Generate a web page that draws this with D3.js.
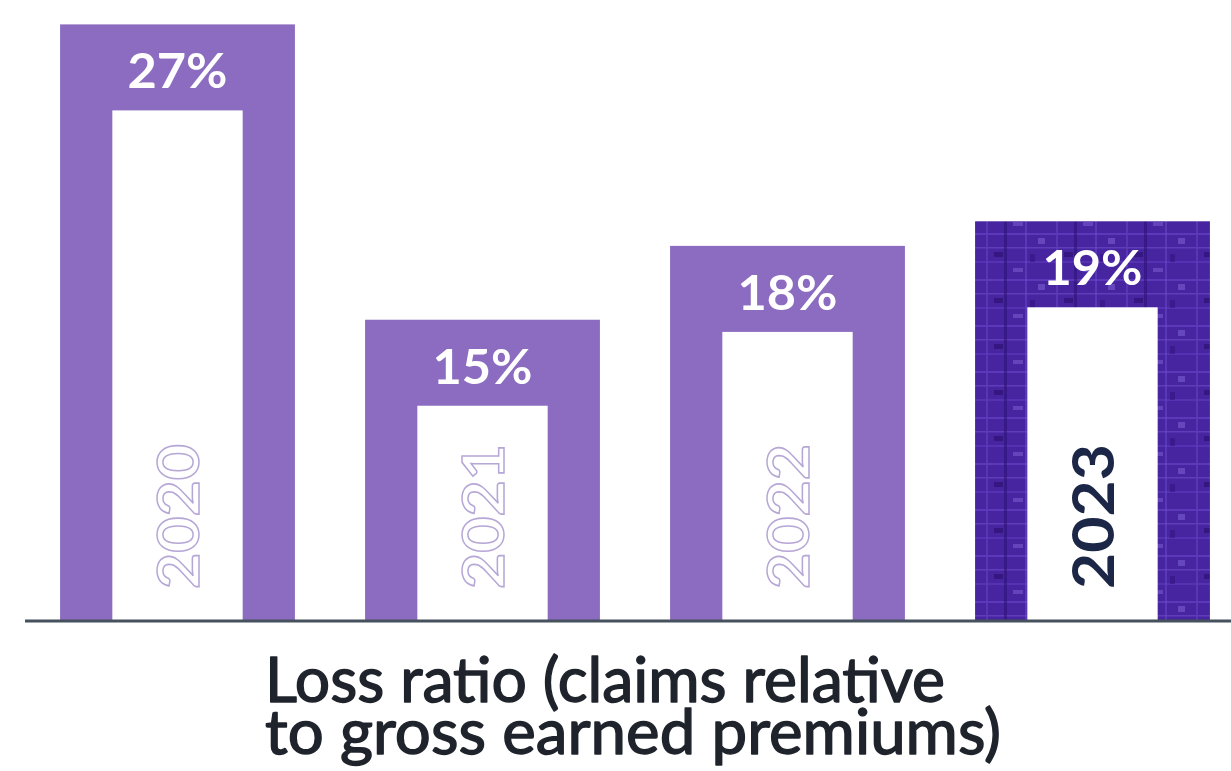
<!DOCTYPE html>
<html>
<head>
<meta charset="utf-8">
<script src="https://cdn.jsdelivr.net/npm/d3@7"></script>
<style>
  html, body { margin: 0; padding: 0; background: #fff; }
  svg { display: block; }
</style>
</head>
<body>
<svg id="chart" width="1231" height="771"></svg>
<script>
// Loss ratio by year
const years = ["2020", "2021", "2022", "2023"];
const lossRatio = [27, 15, 18, 19];
const valueLabels = ["27%", "15%", "18%", "19%"];
const highlightYear = "2023";
const titleLines = ["Loss ratio (claims relative", "to gross earned premiums)"];

const W = 1231, H = 771;
const baseY = 620;
const svg = d3.select("#chart");

const x = d3.scaleBand()
  .domain(years)
  .range([25, 1245])
  .paddingInner(0.23)
  .paddingOuter(0.115);

const y = d3.scaleLinear()
  .domain([2.8, 27])
  .range([baseY, 24.4]);

const data = years.map((yr, i) => ({ year: yr, value: lossRatio[i], label: valueLabels[i] }));

// Textured fill for the highlighted year
const defs = svg.append("defs");
const pat = defs.append("pattern")
  .attr("id", "tex")
  .attr("patternUnits", "userSpaceOnUse")
  .attr("width", 70).attr("height", 46);
pat.append("rect").attr("width", 70).attr("height", 46).attr("fill", "#4724a0");
const streaks = [
  [0, 3, 70, 2, "#6a48c8", 0.6],
  [0, 17, 70, 1.5, "#7b5bd6", 0.45],
  [0, 31, 70, 2, "#5a37b8", 0.7],
  [6, 0, 2, 46, "#5d3bb8", 0.8],
  [24, 0, 3, 46, "#2f1278", 0.6],
  [45, 0, 2, 46, "#6c4ccc", 0.5],
  [58, 8, 7, 6, "#8a6ee0", 0.45],
  [14, 22, 9, 5, "#2b0f6e", 0.6],
  [33, 38, 10, 4, "#9a80ea", 0.35],
  [50, 24, 5, 8, "#30127e", 0.55]
];
streaks.forEach(s => pat.append("rect")
  .attr("x", s[0]).attr("y", s[1]).attr("width", s[2]).attr("height", s[3])
  .attr("fill", s[4]).attr("opacity", s[5]));

const g = svg.append("g");
const bars = g.selectAll("g.bar").data(data).join("g").attr("class", "bar");

// Outer bar
bars.append("rect")
  .attr("x", d => x(d.year))
  .attr("y", d => y(d.value))
  .attr("width", x.bandwidth())
  .attr("height", d => baseY - y(d.value))
  .attr("fill", d => d.year === highlightYear ? "url(#tex)" : "#8b6cc0");

// Inner white panel
const innerW = x.bandwidth() * 0.555;
const innerOffset = 86;
bars.append("rect")
  .attr("x", d => x(d.year) + (x.bandwidth() - innerW) / 2)
  .attr("y", d => y(d.value) + innerOffset)
  .attr("width", innerW)
  .attr("height", d => baseY - y(d.value) - innerOffset)
  .attr("fill", "#ffffff");

// Value labels
bars.append("text")
  .attr("x", d => x(d.year) + x.bandwidth() / 2)
  .attr("y", d => y(d.value) + 64)
  .attr("text-anchor", "middle")
  .attr("font-family", "Lato, 'Open Sans', sans-serif")
  .attr("font-weight", 700)
  .attr("font-size", 48)
  .attr("textLength", 100)
  .attr("lengthAdjust", "spacingAndGlyphs")
  .attr("fill", "#ffffff")
  .text(d => d.label);

// Year labels, rotated inside the white panel
bars.append("text")
  .attr("transform", d => `translate(${x(d.year) + x.bandwidth() / 2 + 21},${baseY - 31}) rotate(-90)`)
  .attr("text-anchor", "start")
  .attr("font-family", "Lato, 'Open Sans', sans-serif")
  .attr("font-weight", 700)
  .attr("font-size", 58)
  .attr("textLength", 145)
  .attr("lengthAdjust", "spacingAndGlyphs")
  .attr("fill", d => d.year === highlightYear ? "#1c2748" : "none")
  .attr("stroke", d => d.year === highlightYear ? "none" : "#b7a7d6")
  .attr("stroke-width", 1.5)
  .text(d => d.year);

// Baseline
g.append("line")
  .attr("x1", 25).attr("x2", W)
  .attr("y1", baseY + 1).attr("y2", baseY + 1)
  .attr("stroke", "#45515c")
  .attr("stroke-width", 3);

// Caption, two lines
const capLengths = [680, 736];
svg.selectAll("text.caption").data(titleLines).join("text")
  .attr("class", "caption")
  .attr("x", 265)
  .attr("y", (d, i) => 702 + i * 52)
  .attr("font-family", "Lato, 'Open Sans', sans-serif")
  .attr("font-weight", 400)
  .attr("font-size", 61)
  .attr("textLength", (d, i) => capLengths[i])
  .attr("lengthAdjust", "spacingAndGlyphs")
  .attr("fill", "#1f232b")
  .attr("stroke", "#1f232b")
  .attr("stroke-width", 1.4)
  .attr("stroke-linejoin", "round")
  .text(d => d);
</script>
</body>
</html>
